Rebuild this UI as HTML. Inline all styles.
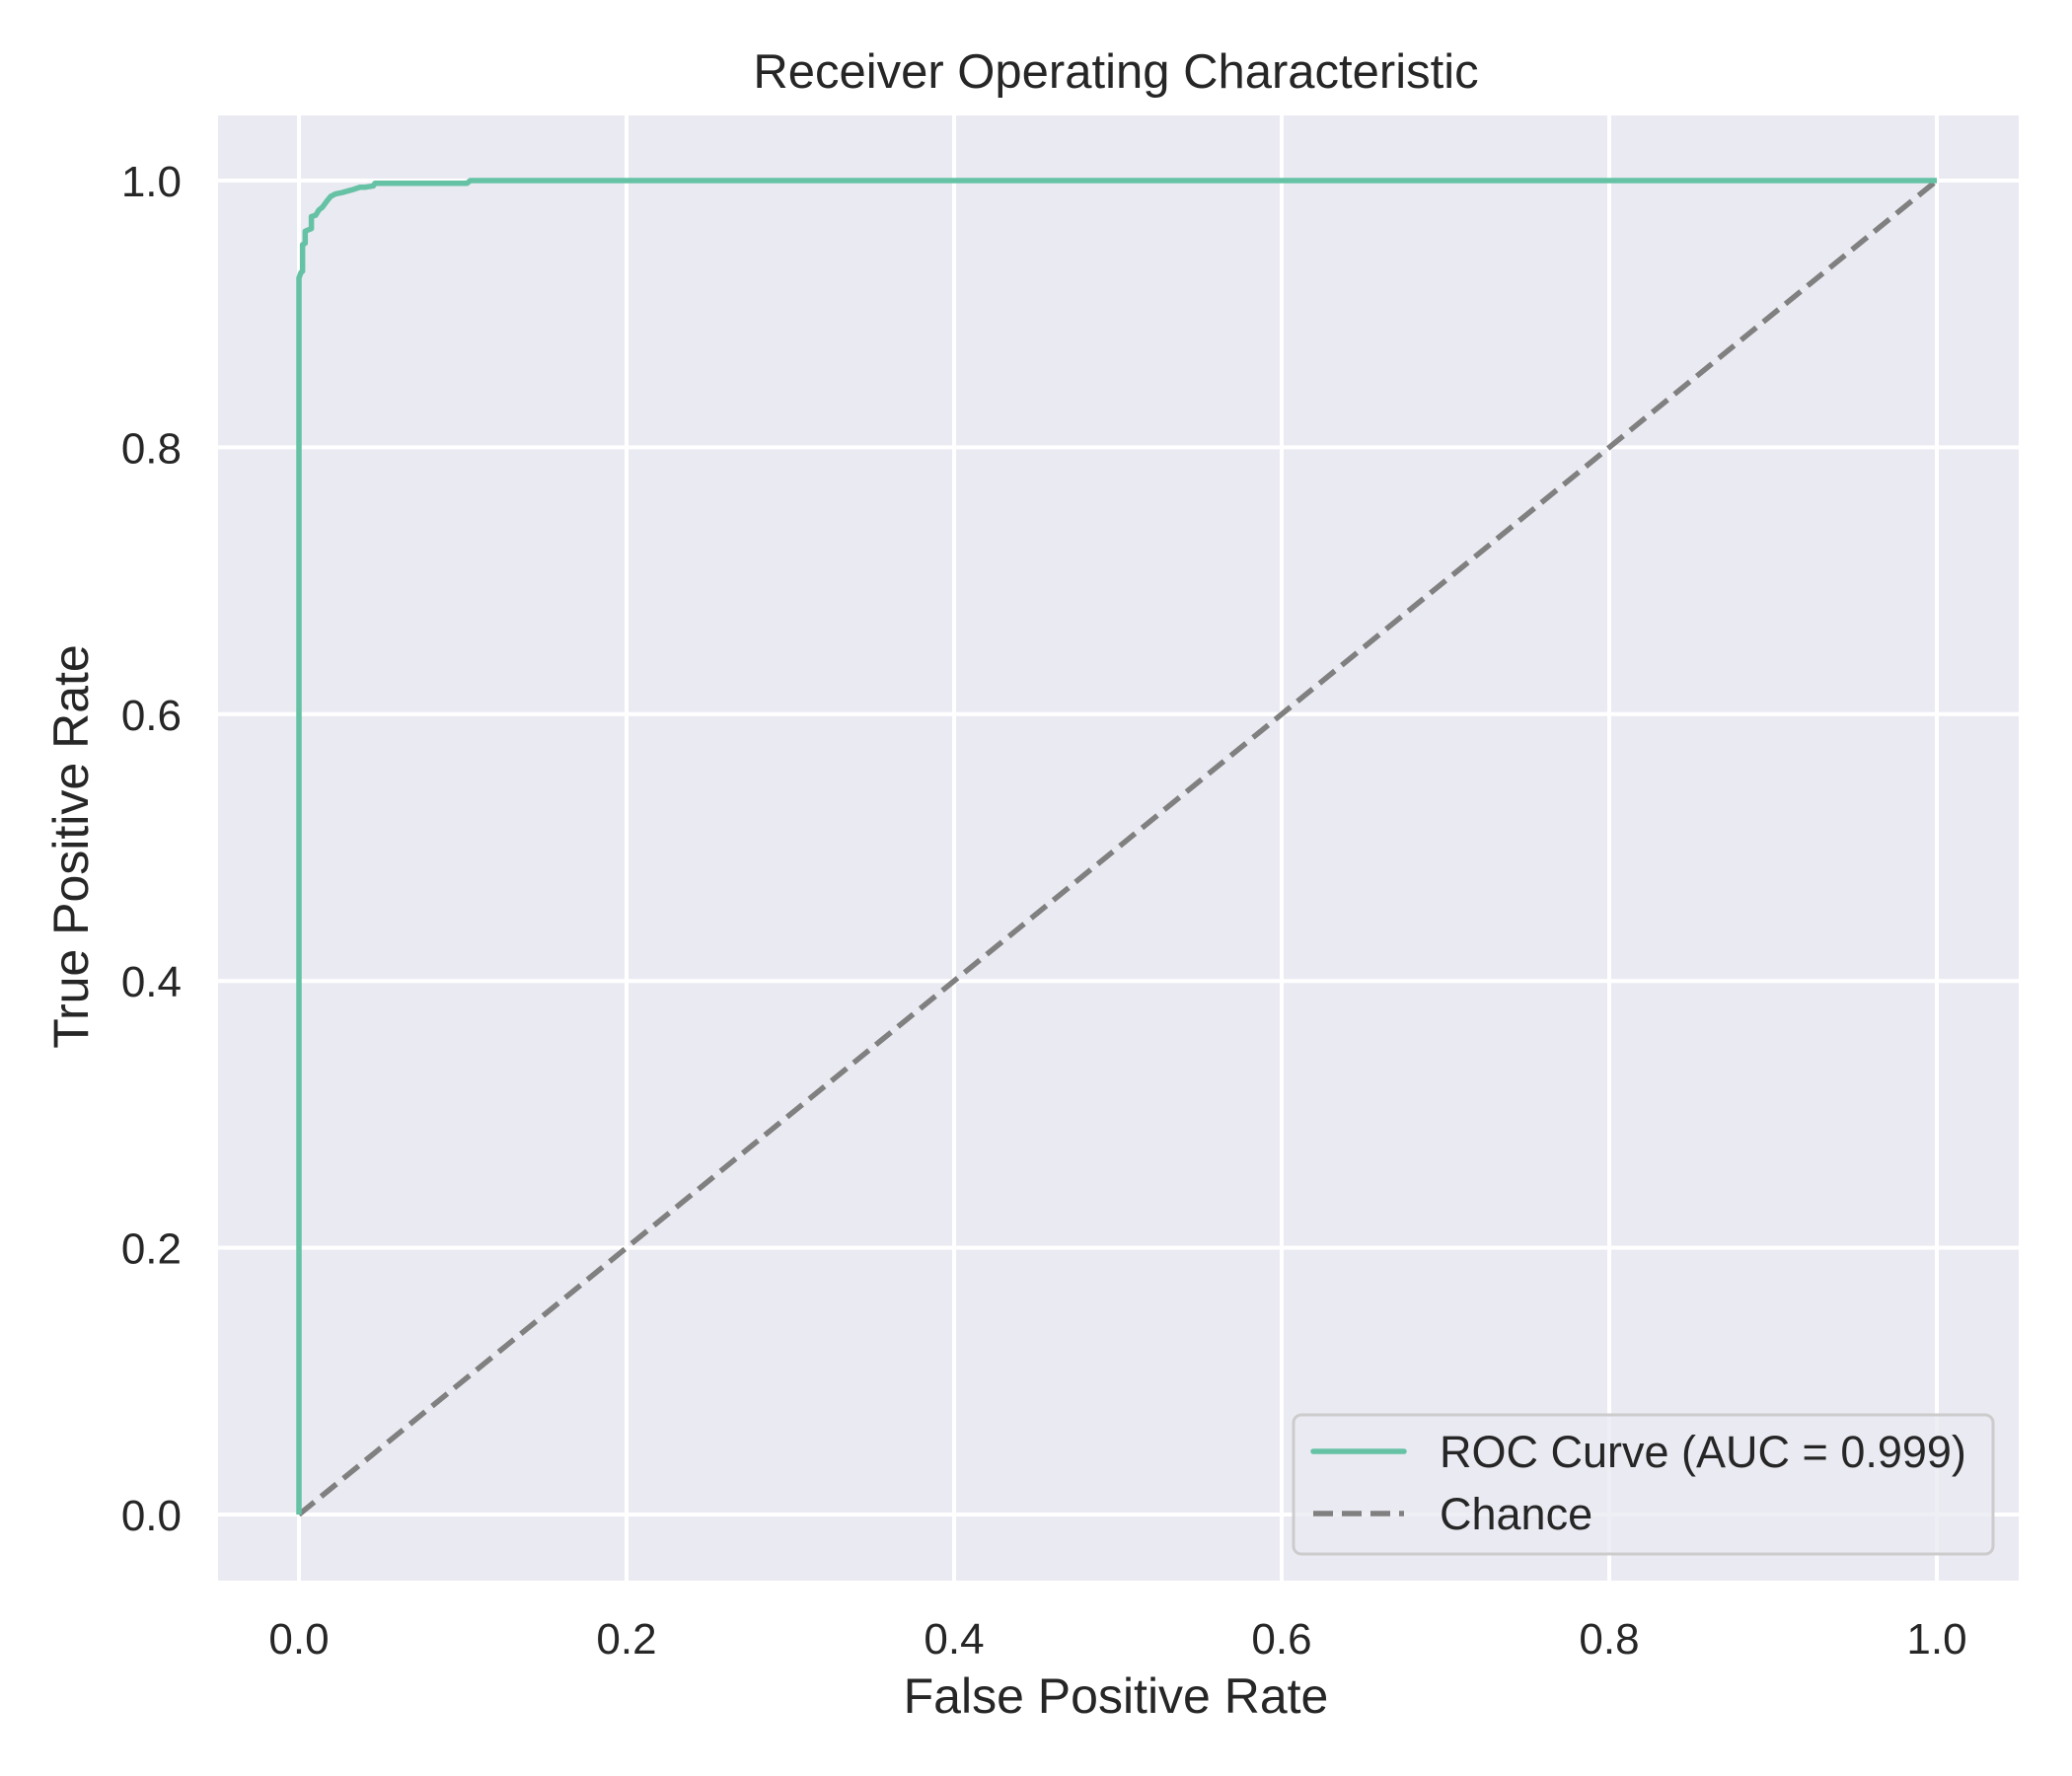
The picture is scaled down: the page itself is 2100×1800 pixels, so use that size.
<!DOCTYPE html>
<html><head><meta charset="utf-8"><style>
html,body{margin:0;padding:0;background:#fff;}
svg{display:block;font-family:"Liberation Sans",Arial,sans-serif;}
</style></head><body>
<svg id="chart" width="2100" height="1800" viewBox="0 0 2100 1800" xmlns="http://www.w3.org/2000/svg">
<rect x="0" y="0" width="2100" height="1800" fill="#ffffff"/>
<rect x="221" y="117" width="1825" height="1485" fill="#eaeaf2"/>
<g id="grid"></g>
<g id="series"></g>
<g id="ticks"></g>
<text x="1131" y="89" font-size="49" fill="#262626" text-anchor="middle">Receiver Operating Characteristic</text>
<text x="1131" y="1736" font-size="50" fill="#262626" text-anchor="middle">False Positive Rate</text>
<text x="0" y="0" font-size="50" fill="#262626" text-anchor="middle" transform="translate(89,858) rotate(-90)">True Positive Rate</text>
<g>
<rect x="1311" y="1434" width="709" height="141" rx="8" fill="#eaeaf2" fill-opacity="0.8" stroke="#cccccc" stroke-width="3"/>
<line x1="1331" y1="1471" x2="1423" y2="1471" stroke="#66c2a5" stroke-width="5.5" stroke-linecap="round"/>
<text x="1459" y="1487" font-size="45" fill="#262626">ROC Curve (AUC = 0.999)</text>
<line x1="1331" y1="1534" x2="1423" y2="1534" stroke="#808080" stroke-width="5.5" stroke-dasharray="20,9"/>
<text x="1459" y="1550" font-size="45" fill="#262626">Chance</text>
</g>
</svg>
<script>
const xTicks = [0.0, 0.2, 0.4, 0.6, 0.8, 1.0];
const yTicks = [0.0, 0.2, 0.4, 0.6, 0.8, 1.0];
const xTickLabels = ["0.0","0.2","0.4","0.6","0.8","1.0"];
const yTickLabels = ["0.0","0.2","0.4","0.6","0.8","1.0"];
const rocFpr = [0, 0, 0.0012, 0.0022, 0.0022, 0.0038, 0.0038, 0.0056, 0.0076, 0.0076, 0.0102, 0.0122, 0.0143, 0.0173, 0.0193, 0.0223, 0.0263, 0.0323, 0.0373, 0.0404, 0.0454, 0.0464, 0.1026, 0.1046, 1.0];
const rocTpr = [0, 0.927, 0.931, 0.932, 0.952, 0.953, 0.962, 0.963, 0.964, 0.973, 0.974, 0.978, 0.980, 0.985, 0.988, 0.990, 0.991, 0.993, 0.995, 0.995, 0.996, 0.998, 0.998, 1.0, 1.0];
const chanceX = [0, 1];
const chanceY = [0, 1];

const NS = "http://www.w3.org/2000/svg";
function xs(v){ return 303 + v * 1660; }
function ys(v){ return 1535 - v * 1352; }
function mk(tag, attrs, parent){
  const e = document.createElementNS(NS, tag);
  for (const k in attrs) e.setAttribute(k, attrs[k]);
  parent.appendChild(e);
  return e;
}
const grid = document.getElementById('grid');
const ticks = document.getElementById('ticks');
const series = document.getElementById('series');

xTicks.forEach((t, i) => {
  const l = mk('line', {x1: xs(t), x2: xs(t), y1: 117, y2: 1602, stroke: '#ffffff', 'stroke-width': 4}, grid);
  
  
  const tx = mk('text', {x: xs(t), y: 1676, 'font-size': 44, fill: '#262626', 'text-anchor': 'middle'}, ticks);
  tx.textContent = xTickLabels[i];
  
  
});
yTicks.forEach((t, i) => {
  const l = mk('line', {x1: 221, x2: 2046, y1: ys(t), y2: ys(t), stroke: '#ffffff', 'stroke-width': 4}, grid);
  
  
  const tx = mk('text', {x: 184, y: ys(t) + 16, 'font-size': 44, fill: '#262626', 'text-anchor': 'end'}, ticks);
  tx.textContent = yTickLabels[i];
  
  
});

const chance = mk('polyline', {points: chanceX.map((x, i) => xs(x) + ',' + ys(chanceY[i])).join(' '), fill: 'none', stroke: '#808080', 'stroke-width': 5.5, 'stroke-dasharray': '20,9'}, series);



const roc = mk('polyline', {points: rocFpr.map((x, i) => xs(x) + ',' + ys(rocTpr[i])).join(' '), fill: 'none', stroke: '#66c2a5', 'stroke-width': 5.5, 'stroke-linejoin': 'round'}, series);


</script>
</body></html>
